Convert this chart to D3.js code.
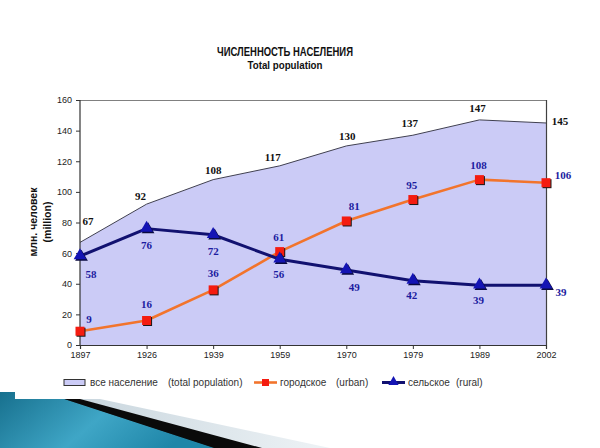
<!DOCTYPE html>
<html><head><meta charset="utf-8">
<script src="https://cdn.jsdelivr.net/npm/d3@7/dist/d3.min.js"></script>
<style>html,body{margin:0;padding:0;background:#fff;}svg{display:block;}</style>
</head><body>
<script>
const years = ["1897","1926","1939","1959","1970","1979","1989","2002"];
const totalPop = [67, 92, 108, 117, 130, 137, 147, 145];
const urbanPop = [9, 16, 36, 61, 81, 95, 108, 106];
const ruralPop = [58, 76, 72, 56, 49, 42, 39, 39];
const yTicks = [0, 20, 40, 60, 80, 100, 120, 140, 160];
const titleRu = "ЧИСЛЕННОСТЬ НАСЕЛЕНИЯ";
const titleEn = "Total population";
const yLabelRu = "млн. человек";
const yLabelEn = "(million)";
const legendItems = [
  {key: "total", ru: "все население", en: "(total population)"},
  {key: "urban", ru: "городское", en: "(urban)"},
  {key: "rural", ru: "сельское", en: "(rural)"}
];

const W = 600, H = 448;
const svg = d3.select("body").append("svg").attr("width", W).attr("height", H);

// decoration bottom-left
const defs = svg.append("defs");
const g1 = defs.append("linearGradient").attr("id","teal").attr("x1","0").attr("y1","0").attr("x2","1").attr("y2","0.3");
g1.append("stop").attr("offset","0").attr("stop-color","#17708e");
g1.append("stop").attr("offset","0.55").attr("stop-color","#3fa6c6");
g1.append("stop").attr("offset","1").attr("stop-color","#1f86a8");
const g2 = defs.append("linearGradient").attr("id","light").attr("x1","0").attr("y1","0").attr("x2","1").attr("y2","0");
g2.append("stop").attr("offset","0").attr("stop-color","#c9d6de");
g2.append("stop").attr("offset","1").attr("stop-color","#eef3f6");
const deco = svg.append("g");
deco.append("polygon").attr("points","78,399 100,399 330,448 258,448").attr("fill","url(#light)");
deco.append("polygon").attr("points","62,399 80,399 262,448 212,448").attr("fill","#0a0a0a");
deco.append("polygon").attr("points","0,392 15,392 15,399 64,399 214,448 0,448").attr("fill","url(#teal)");

const x0 = 80, x1 = 546, yTop = 100, yBot = 345;
const x = d3.scalePoint().domain(years).range([x0, x1]);
const y = d3.scaleLinear().domain([0, 160]).range([yBot, yTop]);

// area
const area = d3.area().x((d,i)=>x(years[i])).y0(yBot).y1(d=>y(d));
svg.append("path").datum(totalPop).attr("d", area).attr("fill", "#cbcbf6");
const line = d3.line().x((d,i)=>x(years[i])).y(d=>y(d));
svg.append("path").datum(totalPop).attr("d", line).attr("fill","none").attr("stroke","#404050").attr("stroke-width",1);

// frame
svg.append("line").attr("x1",x0).attr("x2",x1).attr("y1",yTop+0.5).attr("y2",yTop+0.5).attr("stroke","#808080").attr("stroke-width",1.2);
svg.append("line").attr("x1",x1+0.5).attr("x2",x1+0.5).attr("y1",yTop).attr("y2",yBot).attr("stroke","#404040").attr("stroke-width",1.2);

// axes
const yAxis = svg.append("g").attr("transform",`translate(${x0},0)`)
  .call(d3.axisLeft(y).tickValues(yTicks).tickSize(4).tickPadding(4));
const xAxis = svg.append("g").attr("transform",`translate(0,${yBot})`)
  .call(d3.axisBottom(x).tickSize(4).tickPadding(3));
[yAxis, xAxis].forEach(a=>{
  a.select(".domain").attr("stroke","#333").attr("stroke-width",1.2);
  a.selectAll(".tick line").attr("stroke","#333");
  a.selectAll("text").attr("font-family","Liberation Sans, Arial, sans-serif").attr("font-size",9).attr("fill","#222");
});
yAxis.select(".domain").attr("d", `M0,${yTop}V${yBot}`);

// lines
svg.append("path").datum(urbanPop).attr("d", line).attr("fill","none").attr("stroke","#f2742c").attr("stroke-width",2.6).attr("stroke-linejoin","round");
svg.append("path").datum(ruralPop).attr("d", line).attr("fill","none").attr("stroke","#111170").attr("stroke-width",3).attr("stroke-linejoin","round");

// urban markers
const um = svg.append("g");
urbanPop.forEach((v,i)=>{
  const cx = x(years[i]), cy = y(v);
  um.append("rect").attr("x",cx-3.5).attr("y",cy-3.5).attr("width",9).attr("height",9).attr("fill","#1a1a1a");
  um.append("rect").attr("x",cx-4.5).attr("y",cy-4.5).attr("width",9).attr("height",9).attr("fill","#f41c10");
});
// rural markers
const rm = svg.append("g");
const tri = d3.symbol().type(d3.symbolTriangle).size(70);
ruralPop.forEach((v,i)=>{
  const cx = x(years[i]), cy = y(v);
  rm.append("path").attr("d",tri).attr("transform",`translate(${cx+1.5},${cy+1})`).attr("fill","#0a0a40");
  rm.append("path").attr("d",tri).attr("transform",`translate(${cx},${cy-0.5})`).attr("fill","#1414b4");
});

// data labels
const lblFont = "Liberation Serif, Times New Roman, serif";
function labels(data, color, offs) {
  data.forEach((v,i)=>{
    const o = offs[i];
    svg.append("text").attr("x", x(years[i]) + o[0]).attr("y", y(v) + o[1])
      .attr("text-anchor","middle").attr("dominant-baseline","central")
      .attr("font-family", lblFont).attr("font-weight","bold").attr("font-size",11)
      .attr("fill", color).text(v);
  });
}
labels(totalPop, "#111", [[8,-21],[-6,-8],[0,-10],[-7,-9],[1,-10],[-3,-12],[-2,-12],[14,-2]]);
labels(urbanPop, "#1c1ca0", [[9,-12],[0,-17],[0,-17],[-1,-15],[8,-15],[-1,-15],[-1,-15],[17,-8]]);
labels(ruralPop, "#1c1ca0", [[11,18],[0,16],[0,16],[-1,15],[8,17],[-1,14],[-1,15],[15,7]]);

// title
const tf = "Liberation Sans, Arial, sans-serif";
svg.append("text").attr("x",285).attr("y",51.5).attr("text-anchor","middle").attr("dominant-baseline","central")
  .attr("font-family",tf).attr("font-weight","bold")
  .attr("font-size",13).attr("textLength",136).attr("lengthAdjust","spacingAndGlyphs").attr("fill","#111").text(titleRu);
svg.append("text").attr("x",285).attr("y",64.5).attr("text-anchor","middle").attr("dominant-baseline","central")
  .attr("font-family",tf).attr("font-weight","bold")
  .attr("font-size",11.5).attr("textLength",75).attr("lengthAdjust","spacingAndGlyphs").attr("fill","#111").text(titleEn);

// y label
const yl = svg.append("g").attr("transform","translate(40,222) rotate(-90)");
yl.append("text").attr("x",0).attr("y",-7).attr("text-anchor","middle").attr("dominant-baseline","central")
  .attr("font-family",tf).attr("font-weight","bold").attr("font-size",10.5).attr("fill","#111").text(yLabelRu);
yl.append("text").attr("x",0).attr("y",7).attr("text-anchor","middle").attr("dominant-baseline","central")
  .attr("font-family",tf).attr("font-weight","bold").attr("font-size",10.5).attr("fill","#111").text(yLabelEn);

// legend
const ly = 382.5;
const lg = svg.append("g");
function ltext(tx, t){ lg.append("text").attr("x",tx).attr("y",ly).attr("dominant-baseline","central")
  .attr("font-family",tf).attr("font-size",10).attr("fill","#333").text(t); }
lg.append("rect").attr("x",64).attr("y",379.5).attr("width",21).attr("height",6).attr("fill","#cbcbf6").attr("stroke","#333").attr("stroke-width",1);
ltext(90, legendItems[0].ru); ltext(168, legendItems[0].en);
lg.append("line").attr("x1",254).attr("x2",277).attr("y1",ly).attr("y2",ly).attr("stroke","#f2742c").attr("stroke-width",2.6);
lg.append("rect").attr("x",262).attr("y",ly-3.5).attr("width",7).attr("height",7).attr("fill","#f41c10");
ltext(280, legendItems[1].ru); ltext(336, legendItems[1].en);
lg.append("line").attr("x1",382).attr("x2",405).attr("y1",ly).attr("y2",ly).attr("stroke","#111170").attr("stroke-width",3);
lg.append("path").attr("d",d3.symbol().type(d3.symbolTriangle).size(45)).attr("transform",`translate(393.5,${ly-0.5})`).attr("fill","#1414b4");
ltext(408, legendItems[2].ru); ltext(456, legendItems[2].en);
</script>
</body></html>
